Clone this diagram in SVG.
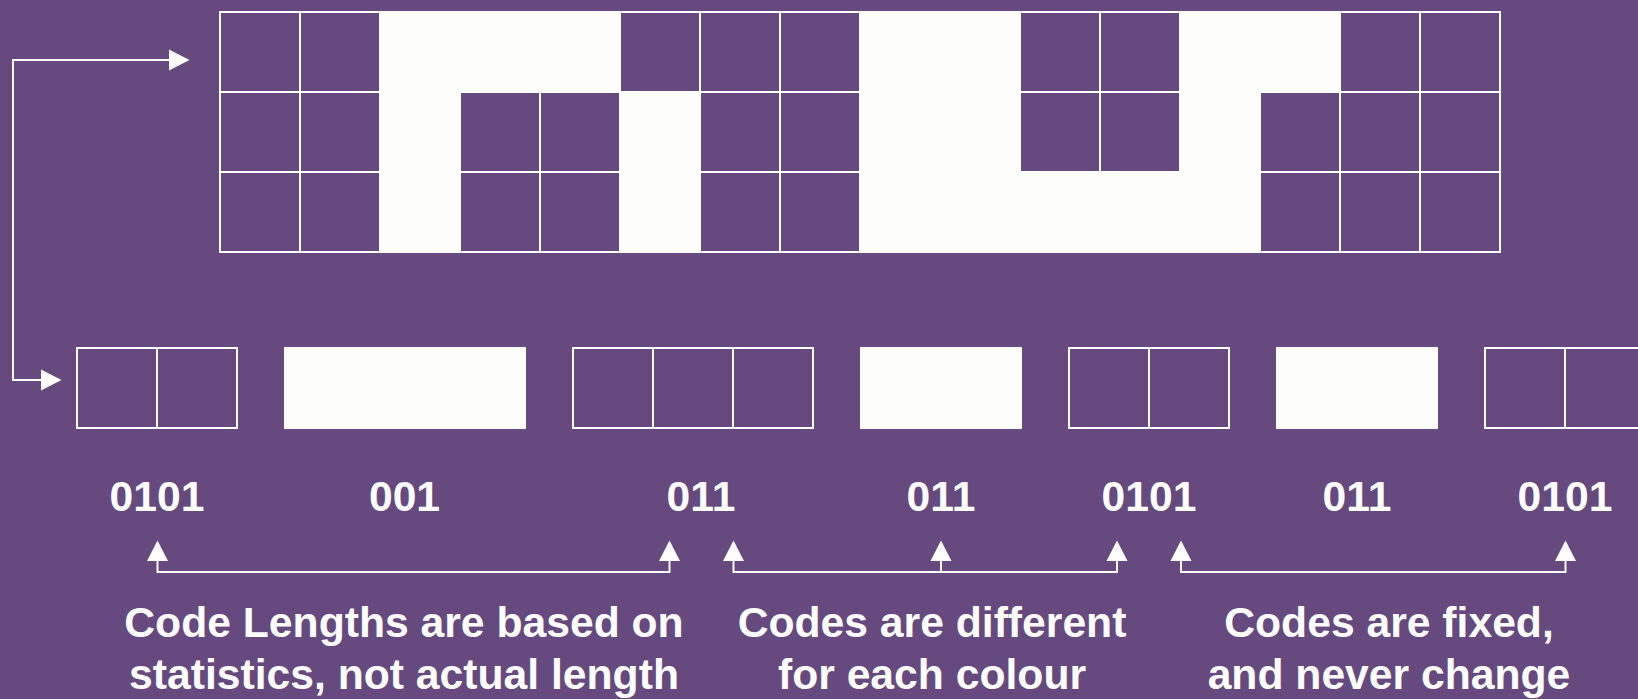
<svg xmlns="http://www.w3.org/2000/svg" width="1638" height="699" viewBox="0 0 1638 699">
  <style>
    .p { fill: #66497E; stroke: #FFFFFF; stroke-width: 2; }
    .w { fill: #FCFCFA; stroke: #FCFCFA; stroke-width: 2; }
    .ln { fill: none; stroke: #FCFCFA; stroke-width: 2; }
    .t { font-family: "Liberation Sans", Arial, Helvetica, sans-serif; font-weight: bold; font-size: 42.67px; fill: #FCFCFA; text-anchor: middle; }
  </style>
  <defs>
    <marker id="ah" markerUnits="userSpaceOnUse" markerWidth="21" markerHeight="22" viewBox="0 -11 21 22" refX="0" refY="0" orient="auto-start-reverse">
      <path d="M0,-10.5 L20.5,0 L0,10.5 z" fill="#FCFCFA"/>
    </marker>
  </defs>
  <rect x="0" y="0" width="1638" height="699" fill="#66497E"/>

  <g id="image-grid">
    <!-- white cells -->
    <rect class="w" x="380" y="12" width="80" height="80"/>
    <rect class="w" x="460" y="12" width="80" height="80"/>
    <rect class="w" x="540" y="12" width="80" height="80"/>
    <rect class="w" x="860" y="12" width="80" height="80"/>
    <rect class="w" x="940" y="12" width="80" height="80"/>
    <rect class="w" x="1180" y="12" width="80" height="80"/>
    <rect class="w" x="1260" y="12" width="80" height="80"/>
    <rect class="w" x="380" y="92" width="80" height="80"/>
    <rect class="w" x="620" y="92" width="80" height="80"/>
    <rect class="w" x="860" y="92" width="80" height="80"/>
    <rect class="w" x="940" y="92" width="80" height="80"/>
    <rect class="w" x="1180" y="92" width="80" height="80"/>
    <rect class="w" x="380" y="172" width="80" height="80"/>
    <rect class="w" x="620" y="172" width="80" height="80"/>
    <rect class="w" x="860" y="172" width="80" height="80"/>
    <rect class="w" x="940" y="172" width="80" height="80"/>
    <rect class="w" x="1020" y="172" width="80" height="80"/>
    <rect class="w" x="1100" y="172" width="80" height="80"/>
    <rect class="w" x="1180" y="172" width="80" height="80"/>
    <!-- purple cells -->
    <rect class="p" x="220" y="12" width="80" height="80"/>
    <rect class="p" x="300" y="12" width="80" height="80"/>
    <rect class="p" x="620" y="12" width="80" height="80"/>
    <rect class="p" x="700" y="12" width="80" height="80"/>
    <rect class="p" x="780" y="12" width="80" height="80"/>
    <rect class="p" x="1020" y="12" width="80" height="80"/>
    <rect class="p" x="1100" y="12" width="80" height="80"/>
    <rect class="p" x="1340" y="12" width="80" height="80"/>
    <rect class="p" x="1420" y="12" width="80" height="80"/>
    <rect class="p" x="220" y="92" width="80" height="80"/>
    <rect class="p" x="300" y="92" width="80" height="80"/>
    <rect class="p" x="460" y="92" width="80" height="80"/>
    <rect class="p" x="540" y="92" width="80" height="80"/>
    <rect class="p" x="700" y="92" width="80" height="80"/>
    <rect class="p" x="780" y="92" width="80" height="80"/>
    <rect class="p" x="1020" y="92" width="80" height="80"/>
    <rect class="p" x="1100" y="92" width="80" height="80"/>
    <rect class="p" x="1260" y="92" width="80" height="80"/>
    <rect class="p" x="1340" y="92" width="80" height="80"/>
    <rect class="p" x="1420" y="92" width="80" height="80"/>
    <rect class="p" x="220" y="172" width="80" height="80"/>
    <rect class="p" x="300" y="172" width="80" height="80"/>
    <rect class="p" x="460" y="172" width="80" height="80"/>
    <rect class="p" x="540" y="172" width="80" height="80"/>
    <rect class="p" x="700" y="172" width="80" height="80"/>
    <rect class="p" x="780" y="172" width="80" height="80"/>
    <rect class="p" x="1260" y="172" width="80" height="80"/>
    <rect class="p" x="1340" y="172" width="80" height="80"/>
    <rect class="p" x="1420" y="172" width="80" height="80"/>
  </g>

  <g id="run1">
    <rect class="p" x="77" y="348" width="80" height="80"/>
    <rect class="p" x="157" y="348" width="80" height="80"/>
    <text class="t" x="157" y="511">0101</text>
  </g>
  <g id="run2">
    <rect class="w" x="285" y="348" width="80" height="80"/>
    <rect class="w" x="365" y="348" width="80" height="80"/>
    <rect class="w" x="445" y="348" width="80" height="80"/>
    <text class="t" x="404.5" y="511">001</text>
  </g>
  <g id="run3">
    <rect class="p" x="573" y="348" width="80" height="80"/>
    <rect class="p" x="653" y="348" width="80" height="80"/>
    <rect class="p" x="733" y="348" width="80" height="80"/>
    <text class="t" x="701" y="511">011</text>
  </g>
  <g id="run4">
    <rect class="w" x="861" y="348" width="80" height="80"/>
    <rect class="w" x="941" y="348" width="80" height="80"/>
    <text class="t" x="941" y="511">011</text>
  </g>
  <g id="run5">
    <rect class="p" x="1069" y="348" width="80" height="80"/>
    <rect class="p" x="1149" y="348" width="80" height="80"/>
    <text class="t" x="1149" y="511">0101</text>
  </g>
  <g id="run6">
    <rect class="w" x="1277" y="348" width="80" height="80"/>
    <rect class="w" x="1357" y="348" width="80" height="80"/>
    <text class="t" x="1357" y="511">011</text>
  </g>
  <g id="run7">
    <rect class="p" x="1485" y="348" width="80" height="80"/>
    <rect class="p" x="1565" y="348" width="80" height="80"/>
    <text class="t" x="1565" y="511">0101</text>
  </g>

  <g id="note1">
    <text class="t" x="404" y="637">Code Lengths are based on</text>
    <text class="t" x="404" y="689">statistics, not actual length</text>
  </g>
  <g id="note2">
    <text class="t" x="932" y="637">Codes are different</text>
    <text class="t" x="932" y="689">for each colour</text>
  </g>
  <g id="note3">
    <text class="t" x="1389" y="637">Codes are fixed,</text>
    <text class="t" x="1389" y="689">and never change</text>
  </g>

  <g id="connectors">
    <path class="ln" d="M169,60 H13 V380 H41" marker-start="url(#ah)" marker-end="url(#ah)"/>
    <path class="ln" d="M157.5,561 V572 H669.5 V561" marker-start="url(#ah)" marker-end="url(#ah)"/>
    <path class="ln" d="M733.5,561 V572 H1117 V561" marker-start="url(#ah)" marker-end="url(#ah)"/>
    <path class="ln" d="M941,572 V561" marker-end="url(#ah)"/>
    <path class="ln" d="M1181,561 V572 H1565.5 V561" marker-start="url(#ah)" marker-end="url(#ah)"/>
  </g>
</svg>
